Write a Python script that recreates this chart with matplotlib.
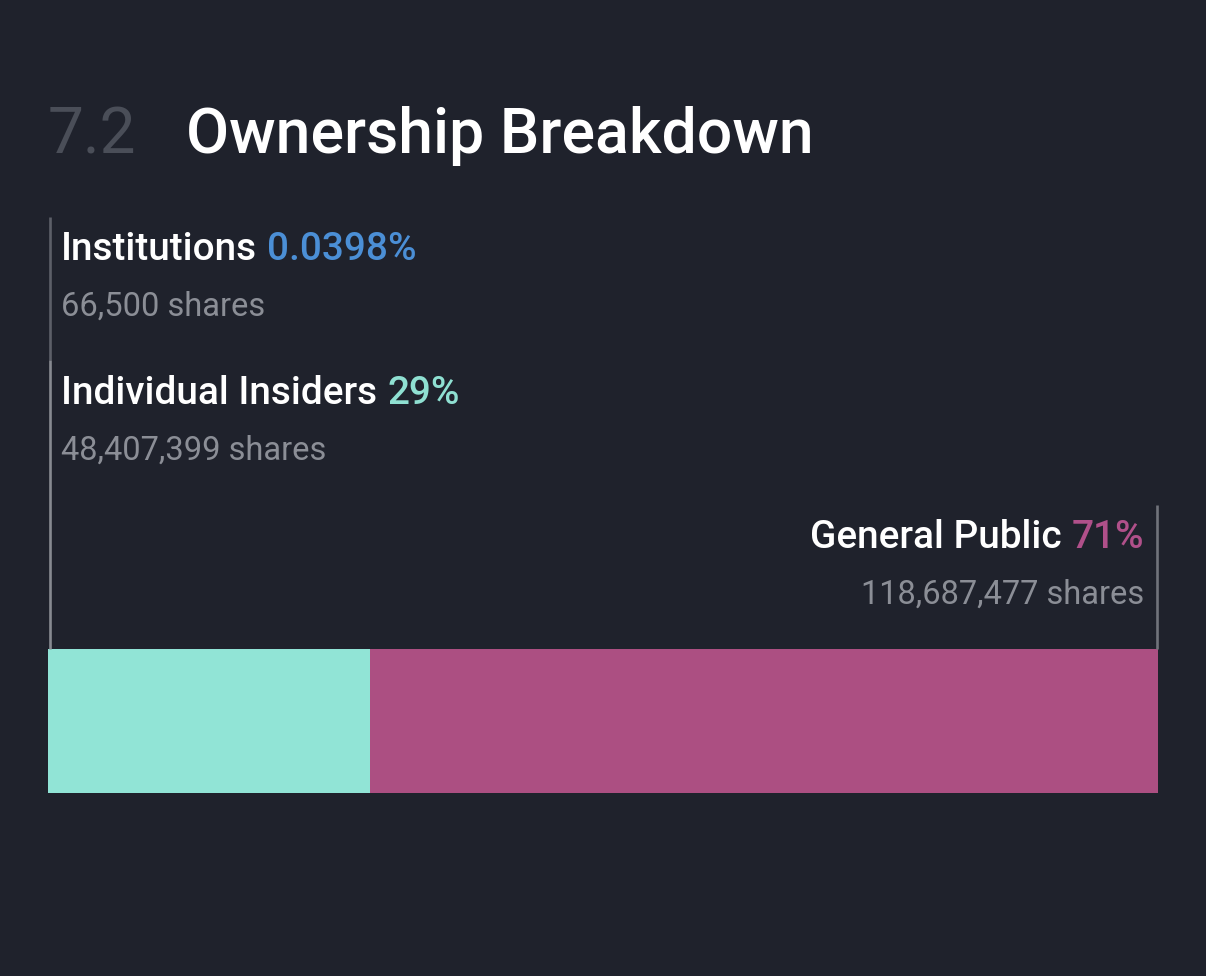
import matplotlib
matplotlib.use("Agg")
import matplotlib.pyplot as plt

# ---- data ----
categories = ["Institutions", "Individual Insiders", "General Public"]
shares = [66500, 48407399, 118687477]
pct_labels = ["0.0398%", "29%", "71%"]
share_labels = ["66,500 shares", "48,407,399 shares", "118,687,477 shares"]
title_num = "7.2"
title_text = "Ownership Breakdown"

# ---- style ----
BG = "#1f222c"
bar_colors = ["#4b8fd6", "#91e4d6", "#ac4f82"]
pct_colors = ["#4b8fd6", "#8fe0d2", "#b0508a"]
line_colors = ["#5c5f68", "#878a91", "#70737b"]
FONT = "Roboto"

W, H = 1206, 976
fig = plt.figure(figsize=(W / 100, H / 100), dpi=100, facecolor=BG)
x0, x1 = 48, 1158
ax = fig.add_axes([x0 / W, 0, (x1 - x0) / W, 1])
ax.set_facecolor(BG)
ax.set_xlim(0, 100)
ax.set_ylim(H, 0)
ax.axis("off")

total = sum(shares)
pcts = [s / total * 100 for s in shares]
lefts = [sum(pcts[:i]) for i in range(len(pcts))]

# bar
ax.barh([721] * 3, pcts, left=lefts, height=144, color=bar_colors,
        linewidth=0)

# guide lines (x from data: segment start for left labels, segment end for right)
line_x = [lefts[0], lefts[1], lefts[2] + pcts[2]]
line_y = [(217, 360), (360, 649), (505, 649)]
line_dx = [1.5, 2.0, -1.5]
for lx, (ya, yb), c, dx in zip(line_x, line_y, line_colors, line_dx):
    ln, = ax.plot([lx, lx], [ya, yb], color=c, lw=1.9, solid_capstyle="butt",
                  clip_on=False)
    ln.set_transform(ax.transData +
                     matplotlib.transforms.Affine2D().translate(dx, 0))

# title
ax.text(0, 153, title_num, color="#4a4e58", fontsize=46, family=FONT,
        va="baseline", ha="left")
ax.annotate(title_text, xy=(0, 153), xycoords="data", xytext=(138, 0),
            textcoords="offset pixels", color="white", fontsize=45,
            family=FONT, weight="medium", va="baseline", ha="left")

lab_fs = 27.9
sh_fs = 23.5
label_baselines = [260, 404, 548]
share_baselines = [316, 460, 604]

# left labels
for i in range(2):
    t = ax.annotate(categories[i], xy=(line_x[i], label_baselines[i]),
                    xytext=(13, 0), textcoords="offset pixels",
                    color="white", fontsize=lab_fs, family=FONT,
                    weight="medium", va="baseline", ha="left")
    ax.annotate(pct_labels[i], xy=(1, label_baselines[i]),
                xycoords=(t, "data"), xytext=(10, 0),
                textcoords="offset pixels", color=pct_colors[i],
                fontsize=lab_fs, family=FONT, weight="medium",
                va="baseline", ha="left")
    ax.annotate(share_labels[i], xy=(line_x[i], share_baselines[i]),
                xytext=(13, 0), textcoords="offset pixels",
                color="#8b8e96", fontsize=sh_fs, family=FONT,
                va="baseline", ha="left")

# right label (General Public)
i = 2
p = ax.annotate(pct_labels[i], xy=(line_x[i], label_baselines[i]),
                xytext=(-14, 0), textcoords="offset pixels",
                color=pct_colors[i], fontsize=lab_fs, family=FONT,
                weight="medium", va="baseline", ha="right")
ax.annotate(categories[i], xy=(0, label_baselines[i]), xycoords=(p, "data"),
            xytext=(-10, 0), textcoords="offset pixels", color="white",
            fontsize=lab_fs, family=FONT, weight="medium", va="baseline",
            ha="right")
ax.annotate(share_labels[i], xy=(line_x[i], share_baselines[i]),
            xytext=(-14, 0), textcoords="offset pixels", color="#8b8e96",
            fontsize=sh_fs, family=FONT, va="baseline", ha="right")

fig.savefig("out.png", dpi=100, facecolor=BG)
